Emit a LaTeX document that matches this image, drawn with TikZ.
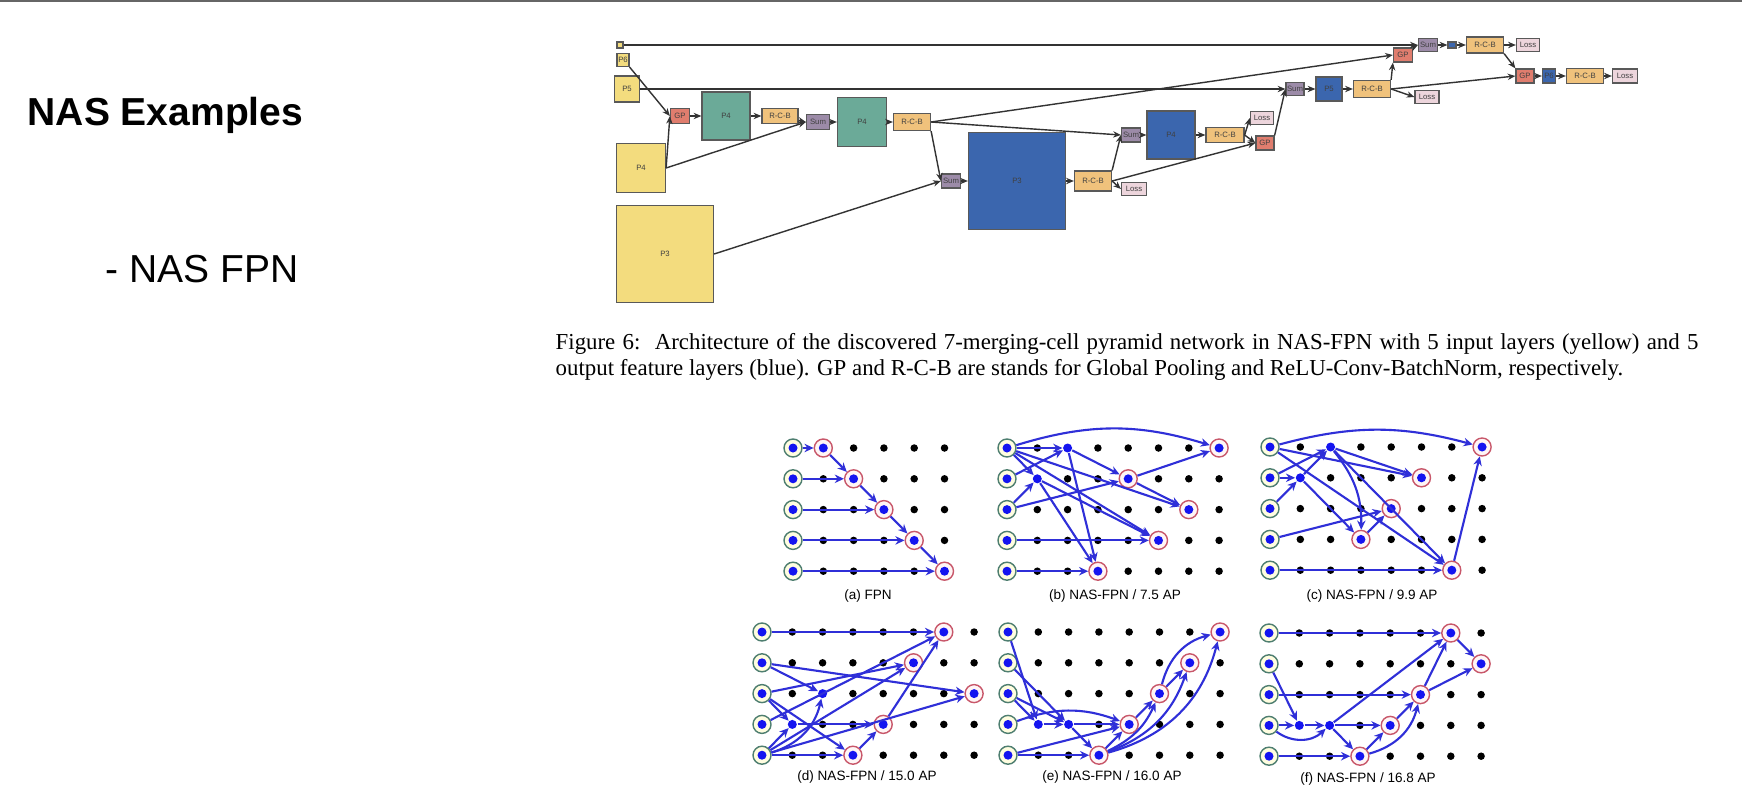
\documentclass[tikz,border=0pt]{standalone}
\usepackage{fontspec}
\setmainfont{Liberation Serif}
\setsansfont{Liberation Sans}
\usetikzlibrary{arrows.meta}

\definecolor{inyellow}{HTML}{F3DC7E}
\definecolor{midteal}{HTML}{6BAA98}
\definecolor{outblue}{HTML}{3B66AE}
\definecolor{gpred}{HTML}{E07D6E}
\definecolor{rcborange}{HTML}{F0C27C}
\definecolor{sumpurple}{HTML}{9C8BA8}
\definecolor{losspink}{HTML}{EDD5DC}
\definecolor{edgeblue}{HTML}{2F2FD8}
\definecolor{dotblue}{HTML}{1414F0}
\definecolor{ringgreen}{HTML}{4E7E70}
\definecolor{ringred}{HTML}{C8576A}

% grid of merging-cell dots: name, x0, y0, last column
\newcommand{\dotgrid}[4]{%
	\foreach \c in {0,...,#4}
		\foreach \r in {0,...,4}
			\node[griddot] (#1-\c-\r) at ({#2+\c*30.3},{#3+\r*30.8}) {};
	\foreach \r in {0,...,4}
		\node[innode] (#10\r) at (#1-0-\r) {};
}

\begin{document}
\begin{tikzpicture}[x=0.01cm,y=-0.01cm,
		box/.style={draw=black!65,line width=0.35pt,inner sep=0pt,
			font=\sffamily\fontsize{2.2}{2.4}\selectfont,text=black!75},
		wh/.style 2 args={minimum width=#1*0.01cm,minimum height=#2*0.01cm},
		inbox/.style={box,fill=inyellow},
		midbox/.style={box,fill=midteal},
		outbox/.style={box,fill=outblue},
		gpbox/.style={box,fill=gpred},
		rcbbox/.style={box,fill=rcborange},
		sumbox/.style={box,fill=sumpurple},
		lossbox/.style={box,fill=losspink},
		griddot/.style={circle,fill=black,inner sep=0pt,minimum size=0.075cm},
		midnode/.style={circle,fill=dotblue,inner sep=0pt,minimum size=0.09cm},
		ringnode/.style={circle,inner sep=0pt,minimum size=0.18cm,line width=0.4pt,
			path picture={\fill[dotblue] (path picture bounding box.center) circle (0.045cm);}},
		innode/.style={ringnode,draw=ringgreen,fill=yellow!12},
		outnode/.style={ringnode,draw=ringred,fill=red!4},
		textline/.style={anchor=base west,inner sep=0pt},
		panellabel/.style={font=\sffamily\fontsize{3.85}{4.4}\selectfont}]
	\useasboundingbox (0,0) rectangle (1742,812);
	\fill[white] (0,0) rectangle (1742,812);
	\draw[black!60,line width=0.6pt] (0,1) -- (1742,1);

	\node[textline,font=\sffamily\bfseries\fontsize{11.1}{13}\selectfont] (title) at (27,125) {NAS Examples};
	\node[textline,font=\sffamily\fontsize{11.1}{13}\selectfont] (sub) at (105,282) {- NAS FPN};

	% architecture of the 7 merging cells
	\begin{scope}
		\node[inbox,wh={6}{6}] (p7in) at (620,45) {};
		\node[inbox,wh={12}{13}] (p6in) at (623,60) {P6};
		\node[inbox,wh={25}{26}] (p5in) at (627,89) {P5};
		\node[inbox,wh={49}{49}] (p4in) at (641,168) {P4};
		\node[inbox,wh={97}{97}] (p3in) at (665,254) {P3};
		\node[gpbox,wh={19}{15}] (gp1) at (680,116) {GP};
		\node[midbox,wh={48}{48}] (p4a) at (726,116) {P4};
		\node[rcbbox,wh={36}{15}] (rcb1) at (780,116) {R-C-B};
		\node[sumbox,wh={23}{15}] (sum1) at (818,122) {Sum};
		\node[midbox,wh={49}{49}] (p4b) at (862,122) {P4};
		\node[rcbbox,wh={37}{17}] (rcb2) at (912,122) {R-C-B};
		\node[sumbox,wh={19}{14}] (sum2) at (951,181) {Sum};
		\node[outbox,wh={97}{97}] (p3out) at (1017,181) {P3};
		\node[rcbbox,wh={37}{20}] (rcb3) at (1093,181) {R-C-B};
		\node[lossbox,wh={25}{13}] (loss1) at (1134,189) {Loss};
		\node[sumbox,wh={19}{14}] (sum3) at (1131,135) {Sum};
		\node[outbox,wh={48}{48}] (p4out) at (1171,135) {P4};
		\node[rcbbox,wh={38}{15}] (rcb4) at (1225,135) {R-C-B};
		\node[lossbox,wh={23}{13}] (loss2) at (1262,118) {Loss};
		\node[gpbox,wh={18}{14}] (gp2) at (1265,143) {GP};
		\node[sumbox,wh={18}{13}] (sum4) at (1295,89) {Sum};
		\node[outbox,wh={26}{24}] (p5out) at (1329,89) {P5};
		\node[rcbbox,wh={37}{17}] (rcb5) at (1372,89) {R-C-B};
		\node[lossbox,wh={24}{13}] (loss3) at (1427,97) {Loss};
		\node[gpbox,wh={19}{14}] (gp3) at (1403,55) {GP};
		\node[sumbox,wh={19}{13}] (sum5) at (1428,45) {Sum};
		\node[outbox,wh={8}{6}] (p7out) at (1452,45) {};
		\node[rcbbox,wh={37}{16}] (rcb6) at (1485,45) {R-C-B};
		\node[lossbox,wh={23}{13}] (loss4) at (1528,45) {Loss};
		\node[gpbox,wh={18}{14}] (gp4) at (1525,76) {GP};
		\node[outbox,wh={13}{14}] (p6out) at (1549,76) {P6};
		\node[rcbbox,wh={37}{15}] (rcb7) at (1585,76) {R-C-B};
		\node[lossbox,wh={25}{14}] (loss5) at (1625,76) {Loss};
	\end{scope}
	\begin{scope}[>={Stealth[length=2.2pt,width=1.8pt]},
		every edge/.style={draw=black!80,line width=0.4pt}]
		\path [->] (p7in.east) edge (sum5.west);
		\path [->] (p6in.south east) edge (gp1.west);
		\path [->] (p4in.east) edge (gp1.west);
		\path [->] (gp1) edge (p4a);
		\path [->] (p4a) edge (rcb1);
		\path [->] (rcb1) edge (sum1.west);
		\path [->] (p4in.east) edge (sum1.west);
		\path [->] (sum1) edge (p4b);
		\path [->] (p4b) edge (rcb2);
		\path [->] (rcb2.east) edge (gp3.west);
		\path [->] (rcb2.east) edge (sum3.west);
		\path [->] (rcb2.south east) edge (sum2.west);
		\path [->] (p3in.east) edge (sum2.west);
		\path [->] (sum2) edge (p3out);
		\path [->] (p3out) edge (rcb3);
		\path [->] (rcb3.east) edge (loss1.west);
		\path [->] (rcb3.north east) edge (sum3.west);
		\path [->] (rcb3.east) edge (gp2.west);
		\path [->] (sum3) edge (p4out);
		\path [->] (p4out) edge (rcb4);
		\path [->] (rcb4.east) edge (loss2.west);
		\path [->] (rcb4.east) edge (gp2.west);
		\path [->] (gp2.north east) edge (sum4.west);
		\path [->] (p5in.east) edge (sum4.west);
		\path [->] (sum4) edge (p5out);
		\path [->] (p5out) edge (rcb5);
		\path [->] (rcb5.east) edge (loss3.west);
		\path [->] (rcb5.north east) edge (gp3.south west);
		\path [->] (rcb5.east) edge (gp4.west);
		\path [->] (gp3.north east) edge (sum5.west);
		\path [->] (sum5) edge (p7out);
		\path [->] (p7out) edge (rcb6);
		\path [->] (rcb6) edge (loss4);
		\path [->] (rcb6.south east) edge (gp4.north west);
		\path [->] (gp4) edge (p6out);
		\path [->] (p6out) edge (rcb7);
		\path [->] (rcb7) edge (loss5);
	\end{scope}

	\node[textline,font=\fontsize{6.5}{7.5}\selectfont] (cap1) at (555,349)
		{\hbox to 11.42cm{Figure 6:\ \ Architecture of the discovered 7-merging-cell pyramid network in NAS-FPN with 5 input layers (yellow) and 5}};
	\node[textline,font=\fontsize{6.5}{7.5}\selectfont] (cap2) at (555,375)
		{output feature layers (blue). GP and R-C-B are stands for Global Pooling and ReLU-Conv-BatchNorm, respectively.};

	% dot grids of the six pyramid networks
	\dotgrid{a}{793}{448}{5}
	\dotgrid{b}{1007}{448}{7}
	\dotgrid{c}{1270}{447}{7}
	\dotgrid{d}{762}{632}{7}
	\dotgrid{e}{1008}{632}{7}
	\dotgrid{f}{1269}{633}{7}

	\foreach \c/\r in {1/0,2/1,3/2,4/3,5/4}
		\node[outnode] (a\c\r) at (a-\c-\r) {};
	\foreach \c/\r in {2/0,1/1}
		\node[midnode] (b\c\r) at (b-\c-\r) {};
	\foreach \c/\r in {7/0,4/1,6/2,5/3,3/4}
		\node[outnode] (b\c\r) at (b-\c-\r) {};
	\foreach \c/\r in {2/0,1/1}
		\node[midnode] (c\c\r) at (c-\c-\r) {};
	\foreach \c/\r in {7/0,5/1,4/2,3/3,6/4}
		\node[outnode] (c\c\r) at (c-\c-\r) {};
	\foreach \c/\r in {2/2,1/3}
		\node[midnode] (d\c\r) at (d-\c-\r) {};
	\foreach \c/\r in {6/0,5/1,7/2,4/3,3/4}
		\node[outnode] (d\c\r) at (d-\c-\r) {};
	\foreach \c/\r in {1/3,2/3}
		\node[midnode] (e\c\r) at (e-\c-\r) {};
	\foreach \c/\r in {7/0,6/1,5/2,4/3,3/4}
		\node[outnode] (e\c\r) at (e-\c-\r) {};
	\foreach \c/\r in {1/3,2/3}
		\node[midnode] (f\c\r) at (f-\c-\r) {};
	\foreach \c/\r in {6/0,7/1,5/2,4/3,3/4}
		\node[outnode] (f\c\r) at (f-\c-\r) {};

	\begin{scope}[>={Stealth[length=2.6pt,width=2.4pt]},
		every edge/.style={draw=edgeblue,line width=0.6pt}]
		% (a)
		\path [->] (a00) edge (a10) (a01) edge (a21) (a02) edge (a32) (a03) edge (a43) (a04) edge (a54);
		\path [->] (a10) edge (a21) (a21) edge (a32) (a32) edge (a43) (a43) edge (a54);
		% (b)
		\path [->] (b00) edge[bend left=17] (b70);
		\path [->] (b00) edge (b20) (b01) edge (b20) (b00) edge (b11) (b02) edge (b11);
		\path [->] (b20) edge (b34) (b11) edge (b34) (b04) edge (b34);
		\path [->] (b20) edge (b41) (b02) edge (b41) (b41) edge (b70) (b41) edge (b62) (b00) edge (b62);
		\path [->] (b00) edge (b53) (b11) edge (b53) (b03) edge (b53);
		% (c)
		\path [->] (c00) edge[bend left=15] (c70);
		\path [->] (c01) edge (c11) (c02) edge (c11) (c01) edge (c20) (c11) edge (c20);
		\path [->] (c00) edge (c51) (c20) edge (c51);
		\path [->] (c20) edge[bend left=20] (c33) (c11) edge (c33);
		\path [->] (c33) edge (c42) (c03) edge (c42);
		\path [->] (c04) edge (c64) (c00) edge (c64) (c20) edge (c64) (c64) edge (c70);
		% (d)
		\path [->] (d00) edge (d60) (d01) edge (d72) (d01) edge (d22);
		\path [->] (d02) edge (d51) (d02) edge (d13) (d02) edge (d34) (d03) edge (d60);
		\path [->] (d04) edge (d13) (d04) edge[bend right=30] (d22) (d04) edge (d51) (d04) edge (d72) (d04) edge (d34);
		\path [->] (d13) edge (d43) (d34) edge (d43) (d43) edge (d60);
		% (e)
		\path [->] (e00) edge (e13) (e01) edge (e23) (e02) edge (e13) (e02) edge (e23);
		\path [->] (e13) edge (e23) (e23) edge (e43) (e03) edge[bend left=20] (e43);
		\path [->] (e04) edge (e34) (e04) edge (e43) (e23) edge (e34) (e34) edge (e43);
		\path [->] (e43) edge (e52) (e52) edge (e61) (e52) edge[bend left=30] (e70);
		\path [->] (e34) edge[bend right=20] (e52) (e34) edge[bend right=25] (e61) (e34) edge[bend right=30] (e70);
		% (f)
		\path [->] (f00) edge (f60) (f01) edge (f13) (f03) edge (f13) (f13) edge (f23) (f23) edge (f43);
		\path [->] (f03) edge[bend right=40] (f23) (f23) edge (f60) (f23) edge (f34) (f04) edge (f34);
		\path [->] (f34) edge (f43) (f43) edge (f52) (f34) edge[bend right=30] (f52) (f02) edge (f52);
		\path [->] (f52) edge (f60) (f52) edge (f71) (f60) edge (f71);
	\end{scope}

	\node[panellabel] (la) at (868,596) {(a) FPN};
	\node[panellabel] (lb) at (1115,596) {(b) NAS-FPN / 7.5 AP};
	\node[panellabel] (lc) at (1372,596) {(c) NAS-FPN / 9.9 AP};
	\node[panellabel] (ld) at (867,777) {(d) NAS-FPN / 15.0 AP};
	\node[panellabel] (le) at (1112,777) {(e) NAS-FPN / 16.0 AP};
	\node[panellabel] (lf) at (1368,779) {(f) NAS-FPN / 16.8 AP};
\end{tikzpicture}
\end{document}
